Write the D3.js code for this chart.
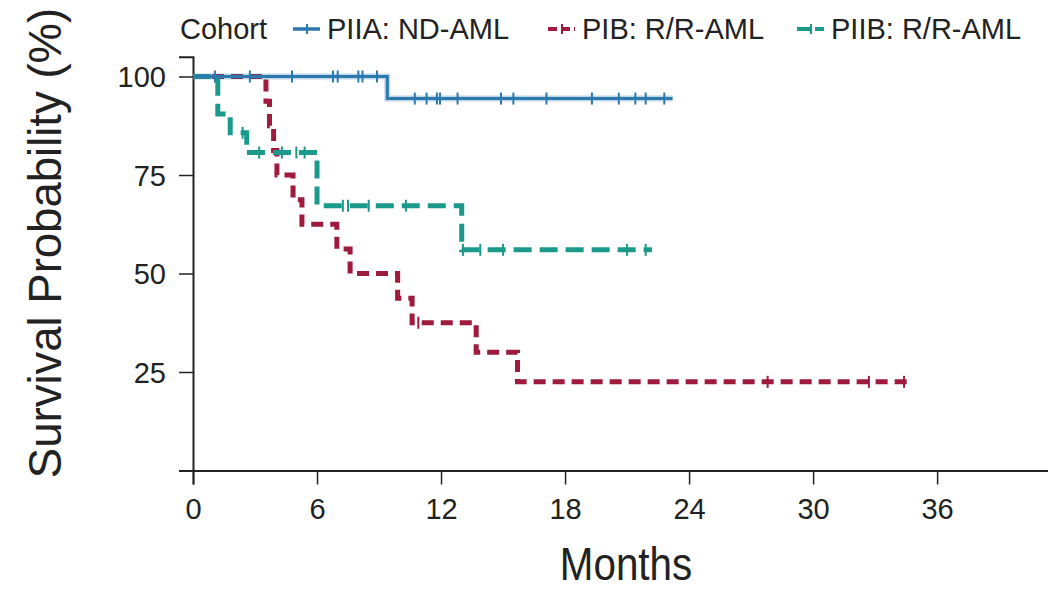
<!DOCTYPE html>
<html lang="en">
<head>
    <meta charset="UTF-8">
    <title>Kaplan-Meier survival by cohort</title>
    <script src="https://d3js.org/d3.v7.min.js"></script>
    <style>
        body {
            margin: 0;
            background-color: #ffffff;
        }
        text {
            font-family: "Liberation Sans", Arial, sans-serif;
            fill: #222;
        }
    </style>
</head>
<body>
    <script>
        // Data
        const cohorts = ["PIIA: ND-AML", "PIB: R/R-AML", "PIIB: R/R-AML"];
        const colors = ["#2b79ad", "#9e1b3d", "#1b9a8b"];

        // PIIA: ND-AML (solid)
        const piiaTimes = [0, 9.4];
        const piiaSurv = [100, 94.4];
        const piiaEnd = 23.2;
        const piiaCensor = [1.06, 2.75, 4.79, 6.77, 7.0, 8.0, 8.2, 8.9, 10.73, 11.3, 11.8, 11.95,
                            12.8, 14.9, 15.5, 17.1, 19.3, 20.6, 21.4, 21.9, 22.8];

        // PIB: R/R-AML (short dashes)
        const pibTimes = [0, 3.53, 3.7, 3.9, 4.06, 4.84, 5.27, 6.96, 7.6, 9.9, 10.6, 13.7, 15.7];
        const pibSurv = [100, 93.75, 87.5, 81.25, 75, 68.75, 62.5, 56.25, 50, 43.75, 37.5, 30, 22.5];
        const pibEnd = 34.7;
        const pibCensor = [10.9, 27.8, 32.7, 34.4];

        // PIIB: R/R-AML (long dashes)
        const piibTimes = [0, 1.2, 1.8, 2.6, 6.0, 13.0];
        const piibSurv = [100, 90.5, 85.7, 80.7, 67.2, 56.0];
        const piibEnd = 22.2;
        const piibCensor = [2.4, 3.2, 4.3, 5.0, 5.4, 7.25, 7.5, 8.5, 10.3, 13.06, 13.9, 15.0, 21.0, 21.9];

        const xTicks = [0, 6, 12, 18, 24, 30, 36];
        const yTicks = [25, 50, 75, 100];

        const series = [
            {name: cohorts[0], color: colors[0], times: piiaTimes, surv: piiaSurv, end: piiaEnd, censor: piiaCensor, dash: null, width: 3},
            {name: cohorts[1], color: colors[1], times: pibTimes, surv: pibSurv, end: pibEnd, censor: pibCensor, dash: "12,7", width: 5},
            {name: cohorts[2], color: colors[2], times: piibTimes, surv: piibSurv, end: piibEnd, censor: piibCensor, dash: "18,8", width: 5}
        ];

        const W = 1048, H = 592;
        const svg = d3.select("body").append("svg")
            .attr("width", W)
            .attr("height", H);

        // Scales
        const x = d3.scaleLinear().domain([0, 41.5]).range([193, 193 + 41.5 * 20.67]);
        const y = d3.scaleLinear().domain([0, 105]).range([470.5, 470.5 - 105 * 3.94]);

        // Axes
        const xAxis = svg.append("g")
            .attr("transform", "translate(0,470.5)")
            .call(d3.axisBottom(x).tickValues(xTicks).tickSize(14).tickPadding(14));
        const yAxis = svg.append("g")
            .attr("transform", "translate(193,0)")
            .call(d3.axisLeft(y).tickValues(yTicks).tickSize(14).tickPadding(13));

        [xAxis, yAxis].forEach(function(g) {
            g.select(".domain").attr("stroke", "#222").attr("stroke-width", 2);
            g.selectAll(".tick line").attr("stroke", "#222").attr("stroke-width", 1.5);
            g.selectAll(".tick text").style("font-size", "29px").attr("fill", "#222");
        });
        yAxis.selectAll(".tick text").attr("dy", "0.36em");

        // Step curves
        const line = d3.line()
            .x(function(d) { return x(d[0]); })
            .y(function(d) { return y(d[1]); })
            .curve(d3.curveStepAfter);

        // draw PIB first, then PIIB, then PIIA on top
        [1, 2, 0].forEach(function(i) {
            const s = series[i];
            const pts = s.times.map(function(t, j) { return [t, s.surv[j]]; });
            pts.push([s.end, s.surv[s.surv.length - 1]]);

            if (i === 0) {
                svg.append("path")
                    .attr("d", line(pts))
                    .attr("fill", "none")
                    .attr("stroke", s.color)
                    .attr("stroke-opacity", 0.3)
                    .attr("stroke-width", 6);
            }
            svg.append("path")
                .attr("d", line(pts))
                .attr("fill", "none")
                .attr("stroke", s.color)
                .attr("stroke-width", s.width)
                .attr("stroke-dasharray", s.dash);

            // survival level at time t
            function survAt(t) {
                let v = s.surv[0];
                s.times.forEach(function(tt, j) { if (tt <= t) v = s.surv[j]; });
                return v;
            }
            svg.selectAll(null)
                .data(s.censor)
                .enter().append("line")
                .attr("x1", function(d) { return x(d); })
                .attr("x2", function(d) { return x(d); })
                .attr("y1", function(d) { return y(survAt(d)) - 6; })
                .attr("y2", function(d) { return y(survAt(d)) + 6; })
                .attr("stroke", s.color)
                .attr("stroke-width", 2);
        });

        // Axis titles
        svg.append("text")
            .attr("transform", "translate(61,243) rotate(-90)")
            .attr("text-anchor", "middle")
            .style("font-size", "45.5px")
            .text("Survival Probability (%)");

        // condensed look: squeeze a regular face horizontally
        svg.append("text")
            .attr("transform", "translate(626,580) scale(0.86,1)")
            .attr("text-anchor", "middle")
            .style("font-size", "47px")
            .text("Months");

        // Legend
        const legend = svg.append("g").attr("class", "legend");
        legend.append("text")
            .attr("x", 180)
            .attr("y", 39)
            .style("font-size", "29px")
            .text("Cohort");

        const legendX = [293, 548, 797];
        series.forEach(function(s, i) {
            const lx = legendX[i];
            legend.append("line")
                .attr("x1", lx).attr("x2", lx + 27)
                .attr("y1", 29).attr("y2", 29)
                .attr("stroke", s.color)
                .attr("stroke-width", s.width === 3 ? 3.5 : 4)
                .attr("stroke-dasharray", s.dash ? (i === 1 ? "9,4" : "14,4") : null);
            legend.append("line")
                .attr("x1", lx + 14).attr("x2", lx + 14)
                .attr("y1", 24).attr("y2", 34)
                .attr("stroke", s.color)
                .attr("stroke-width", 2);
            legend.append("text")
                .attr("x", lx + 34)
                .attr("y", 39)
                .style("font-size", "29px")
                .text(s.name);
        });
    </script>
</body>
</html>
